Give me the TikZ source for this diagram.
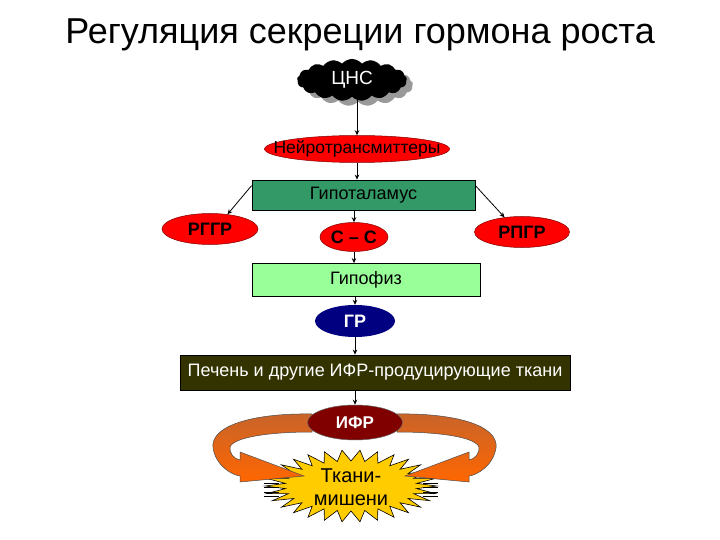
\documentclass[tikz,border=0pt]{standalone}
\usepackage{fontspec}
\setmainfont{Liberation Sans}
\usetikzlibrary{shapes.geometric,shapes.symbols,arrows.meta}
\definecolor{hypgreen}{HTML}{339966}
\definecolor{pitgreen}{HTML}{99FF99}
\definecolor{grblue}{HTML}{000080}
\definecolor{liver}{HTML}{333300}
\definecolor{ifrred}{HTML}{800000}
\definecolor{stargold}{HTML}{FFCC00}
\definecolor{orangeA}{HTML}{C8642A}
\definecolor{orangeB}{HTML}{FF6600}
\definecolor{redfill}{HTML}{FF0000}
\newcommand\fsz[1]{\fontsize{#1pt}{#1pt}\selectfont}
\begin{document}
\begin{tikzpicture}[x=1pt,y=-1pt,
  conn/.style={-{Stealth[length=5pt,width=4.5pt]}, line width=0.8pt},
  redell/.style={ellipse, fill=redfill, draw=black!50!red, line width=0.5pt, inner sep=0pt},
  boxnode/.style={rectangle, draw=black, line width=0.8pt, inner sep=0pt},
  cloudshape/.style={cloud, cloud puffs=17, cloud puff arc=100, aspect=2.6, inner sep=0pt, minimum width=110pt, minimum height=42pt},
  orangearrow/.style={top color=orangeA, bottom color=orangeB, draw=black!70, line width=0.5pt}
]
\useasboundingbox (0,0) rectangle (720,540);
\fill[white] (0,0) rectangle (720,540);

% title
\node[font=\fsz{36}, anchor=base, inner sep=0pt] (title) at (360,44) {Регуляция секреции гормона роста};

% CNS cloud
\node[cloudshape, fill=black!40] (cnsshadow) at (358,85) {};
\node[cloudshape, fill=black, label={[text=white, font=\fsz{19}]center:ЦНС}] (cns) at (352,80) {};

% neurotransmitters
\node[redell, minimum width=185pt, minimum height=27pt, label={[font=\fsz{17.5}]center:Нейротрансмиттеры}] (nt) at (357,149) {};

% hypothalamus
\node[boxnode, fill=hypgreen, minimum width=223pt, minimum height=30pt, font=\fsz{18}] (hyp) at (363.5,195) {Гипоталамус};

% releasing ellipses
\node[redell, minimum width=96pt, minimum height=31pt, label={[font=\bfseries\fsz{18}]center:РГГР}] (rggr) at (210,229) {};
\node[redell, minimum width=68pt, minimum height=29pt, label={[font=\bfseries\fsz{18}]center:С – С}] (cc) at (354,237) {};
\node[redell, minimum width=95pt, minimum height=31pt, label={[font=\bfseries\fsz{18}]center:РПГР}] (rpgr) at (522,232) {};

% pituitary
\node[boxnode, fill=pitgreen, minimum width=228pt, minimum height=33pt, font=\fsz{18}] (pit) at (366,280) {Гипофиз};

% GH
\node[ellipse, fill=grblue, inner sep=0pt, minimum width=80pt, minimum height=32pt, label={[text=white, font=\bfseries\fsz{18}]center:ГР}] (gr) at (355,321) {};

% liver
\node[boxnode, fill=liver, text=white, minimum width=390pt, minimum height=35pt, font=\fsz{18}] (liv) at (375,372.5) {Печень и другие ИФР-продуцирующие ткани};

% target tissues starburst
\fill[stargold] (351+86,486) \foreach \i in {1,...,59} { -- ({351+(66+20*mod(\i+1,2))*cos(\i*6)}, {486+(25+11*mod(\i+1,2))*sin(\i*6)}) } -- cycle;
\draw[black, line width=0.6pt] (351+86,486) \foreach \i in {1,...,59} { -- ({351+(66+20*mod(\i+1,2))*cos(\i*6)}, {486+(25+11*mod(\i+1,2))*sin(\i*6)}) } -- cycle;
\foreach \yy in {483,487.5,492,496.5} {
  \draw[line width=1pt] (264,\yy) -- (279,\yy);
  \draw[line width=1pt] (423,\yy) -- (438,\yy);
}
\node[align=center, font=\fsz{20}, inner sep=0pt] (tgt) at (351,487) {Ткани-\\[3pt]мишени};

% orange feedback arrows
\path[orangearrow] (312,414) .. controls (255,413) and (210,425) .. (213,448) .. controls (216,466) and (232,475) .. (240,476)
  -- (240,482) -- (304,476) -- (240,452) -- (240,460)
  .. controls (234,459) and (229,453) .. (230,447) .. controls (234,437) and (270,432) .. (312,432) -- cycle;
\begin{scope}[xshift=709pt, xscale=-1]
\path[orangearrow] (312,414) .. controls (255,413) and (210,425) .. (213,448) .. controls (216,466) and (232,475) .. (240,476)
  -- (240,482) -- (304,476) -- (240,452) -- (240,460)
  .. controls (234,459) and (229,453) .. (230,447) .. controls (234,437) and (270,432) .. (312,432) -- cycle;
\end{scope}

% IGF
\node[ellipse, fill=ifrred, draw=black!60, line width=0.5pt, inner sep=0pt, minimum width=95pt, minimum height=35pt, label={[text=white, font=\bfseries\fsz{17}]center:ИФР}] (ifr) at (355,422.5) {};

% connectors
\draw[conn] (cns.south -| nt.north) -- (nt.north);
\draw[conn] (nt.south) -- (nt.south |- hyp.north);
\draw[conn] (hyp.south -| cc.north) -- (cc.north);
\draw[conn] (cc.south) -- (cc.south |- pit.north);
\draw[conn] (pit.south -| gr.north) -- (gr.north);
\draw[conn] (gr.south) -- (gr.south |- liv.north);
\draw[conn] (liv.south -| ifr.north) -- (ifr.north);
\draw[conn] ([yshift=-6pt]hyp.north west) -- (rggr.40);
\draw[conn] ([yshift=-6pt]hyp.north east) -- (rpgr.140);
\end{tikzpicture}
\end{document}
